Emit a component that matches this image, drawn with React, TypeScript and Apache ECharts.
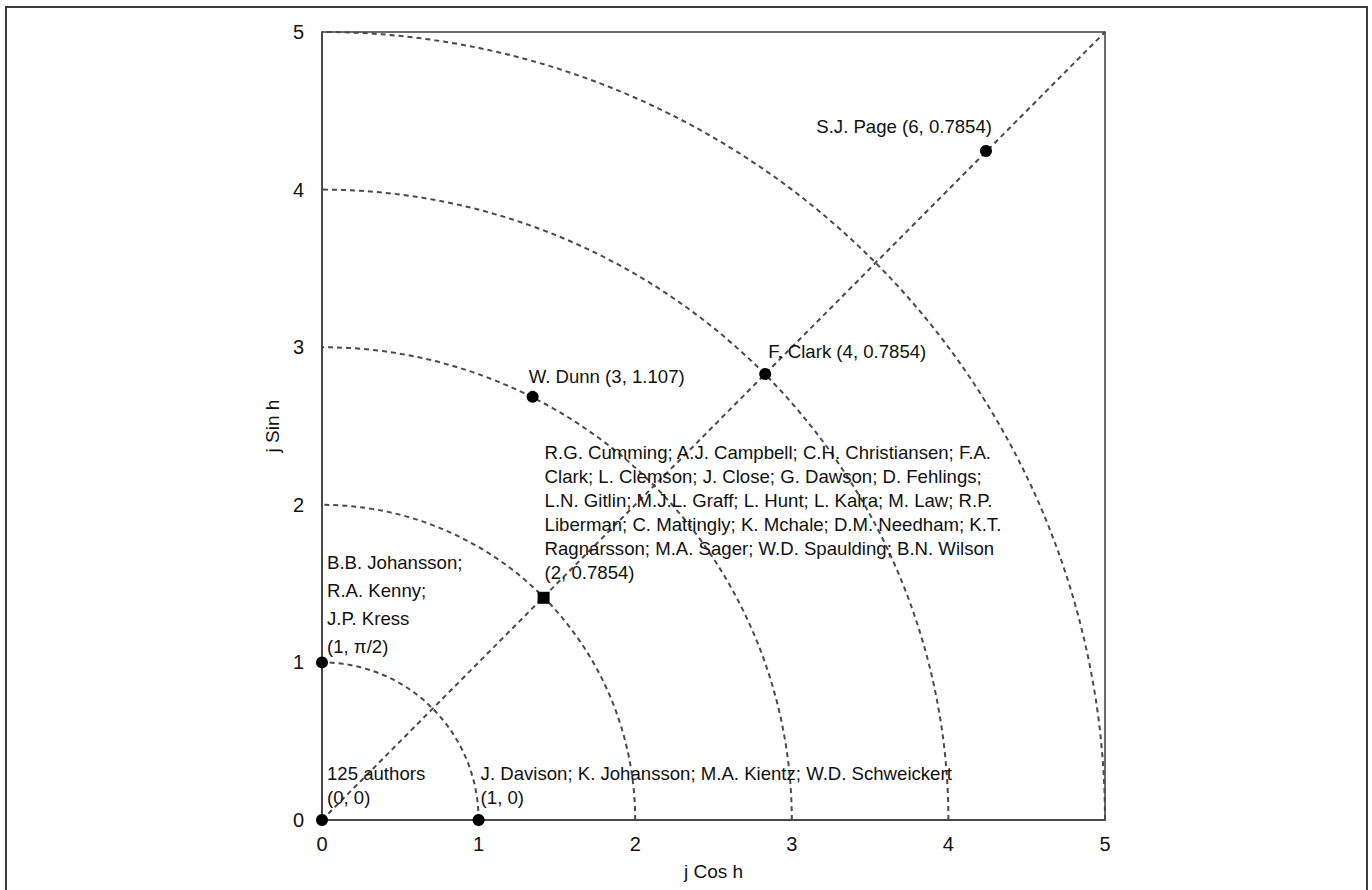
import React, { useEffect, useRef } from "react";
import * as echarts from "echarts";

// Concentric quarter-circle radii (dashed arcs)
const arcRadii = [1, 2, 3, 4, 5];

// Diagonal reference line endpoints (x, y)
const diagonalX = [0, 5];
const diagonalY = [0, 5];

// Author points
const pointX = [0, 1, 0, 1.415, 1.345, 2.83, 4.24];
const pointY = [0, 0, 1, 1.41, 2.685, 2.83, 4.245];
const pointSymbols = ["circle", "circle", "circle", "rect", "circle", "circle", "circle"];
const pointLabels = [
  "125 authors\n(0, 0)",
  "J. Davison; K. Johansson; M.A. Kientz; W.D. Schweickert\n(1, 0)",
  "B.B. Johansson;\nR.A. Kenny;\nJ.P. Kress\n(1, \u03c0/2)",
  "R.G. Cumming; A.J. Campbell; C.H. Christiansen; F.A.\nClark; L. Clemson; J. Close; G. Dawson; D. Fehlings;\nL.N. Gitlin; M.J.L. Graff; L. Hunt; L. Kalra; M. Law; R.P.\nLiberman; C. Mattingly; K. Mchale; D.M. Needham; K.T.\nRagnarsson; M.A. Sager; W.D. Spaulding; B.N. Wilson\n(2, 0.7854)",
  "W. Dunn (3, 1.107)",
  "F. Clark (4, 0.7854)",
  "S.J. Page (6, 0.7854)",
];

const xTicks = [0, 1, 2, 3, 4, 5];
const xName = "j Cos h";
const yName = "j Sin h";

const FONT = "'Liberation Sans', Arial, sans-serif";
const TEXT = "#111111";
const DASH = "#4a4a4a";

// label placement (pixel offsets from the point centre)
const labelStyles = [
  { offset: [5, -59], align: "left", lineHeight: 24 },
  { offset: [2, -59], align: "left", lineHeight: 24 },
  { offset: [5, -114], align: "left", lineHeight: 28 },
  { offset: [1, -157], align: "left", lineHeight: 24 },
  { offset: [-4, -32], align: "left", lineHeight: 24 },
  { offset: [3, -34], align: "left", lineHeight: 24 },
  { offset: [6, -36], align: "right", lineHeight: 24 },
];

export default function App() {
  const ref = useRef<HTMLDivElement>(null);

  useEffect(() => {
    if (!ref.current) return;
    const chart = echarts.init(ref.current, undefined, { renderer: "svg" });

    const scatterData = pointX.map((x, i) => ({
      value: [x, pointY[i]],
      symbol: pointSymbols[i],
      symbolSize: pointSymbols[i] === "rect" ? 12 : 12,
      label: {
        show: true,
        formatter: pointLabels[i],
        position: "inside",
        offset: labelStyles[i].offset,
        align: labelStyles[i].align,
        verticalAlign: "top",
        lineHeight: labelStyles[i].lineHeight,
        color: TEXT,
        fontFamily: FONT,
        fontSize: 18.6,
        textBorderWidth: 0,
      },
    }));

    const option: any = {
      animation: false,
      backgroundColor: "#ffffff",
      grid: {
        left: 322,
        right: 267,
        top: 32,
        bottom: 70,
        show: true,
        borderColor: "#3c3c3c",
        borderWidth: 1.5,
        backgroundColor: "transparent",
      },
      xAxis: {
        type: "value",
        min: 0,
        max: 5,
        interval: 1,
        name: xName,
        nameLocation: "middle",
        nameGap: 42,
        nameTextStyle: { color: TEXT, fontFamily: FONT, fontSize: 19 },
        axisLine: { show: true, lineStyle: { color: "#3c3c3c", width: 1.5 } },
        axisTick: { show: false },
        splitLine: { show: false },
        axisLabel: {
          color: TEXT,
          fontFamily: FONT,
          fontSize: 20,
          margin: 14,
          formatter: (v: number) => (xTicks.includes(v) ? String(v) : ""),
        },
      },
      yAxis: {
        type: "value",
        min: 0,
        max: 5,
        interval: 1,
        name: yName,
        nameLocation: "middle",
        nameGap: 37,
        nameTextStyle: { color: TEXT, fontFamily: FONT, fontSize: 19 },
        axisLine: { show: true, lineStyle: { color: "#3c3c3c", width: 1.5 } },
        axisTick: { show: false },
        splitLine: { show: false },
        axisLabel: {
          color: TEXT,
          fontFamily: FONT,
          fontSize: 20,
          margin: 18,
        },
      },
      graphic: [
        {
          type: "rect",
          shape: { x: 6, y: 7, width: 1361, height: 900 },
          style: { fill: "none", stroke: "#3c3c3c", lineWidth: 2 },
          silent: true,
          z: 100,
        },
      ],
      series: [
        {
          type: "custom",
          coordinateSystem: "cartesian2d",
          data: arcRadii.map((r) => [r, 0]),
          encode: { x: 0, y: 1 },
          clip: false,
          silent: true,
          renderItem: (params: any, api: any) => {
            const r = api.value(0);
            const c = api.coord([0, 0]);
            const px = api.coord([r, 0]);
            const py = api.coord([0, r]);
            const rx = px[0] - c[0];
            const ry = c[1] - py[1];
            return {
              type: "path",
              shape: {
                pathData: `M ${px[0]} ${px[1]} A ${rx} ${ry} 0 0 0 ${py[0]} ${py[1]}`,
              },
              style: { fill: "none", stroke: DASH, lineWidth: 2, lineDash: [5, 4] },
            };
          },
          z: 1,
        },
        {
          type: "line",
          data: diagonalX.map((x, i) => [x, diagonalY[i]]),
          symbol: "none",
          silent: true,
          lineStyle: { color: DASH, width: 2, type: [5, 4] },
          z: 1,
        },
        {
          type: "scatter",
          data: scatterData,
          itemStyle: { color: "#000000", opacity: 1 },
          silent: true,
          z: 5,
        },
      ],
    };

    chart.setOption(option);
    return () => chart.dispose();
  }, []);

  return (
    <div
      ref={ref}
      style={{ position: "fixed", left: 0, top: 0, width: 1372, height: 890, background: "#fff" }}
    />
  );
}
